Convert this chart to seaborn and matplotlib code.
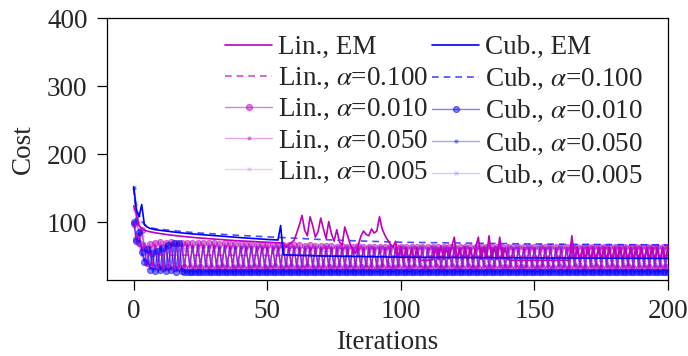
import numpy as np
import pandas as pd
import matplotlib
matplotlib.use("Agg")
import matplotlib.pyplot as plt
import seaborn as sns

# ---------------- data ----------------
iters = np.arange(201)

# Lin., EM (every iteration)
lin_em = [
    124, 112, 95, 91, 88, 87, 86, 85.2, 84.5, 83.8,
    83.2, 82.6, 82, 81.5, 81, 80.5, 80, 79.6, 79.2, 78.8,
    78.4, 78, 77.6, 77.3, 77, 76.7, 76.4, 76.1, 75.8, 75.5,
    75.2, 74.9, 74.6, 74.3, 74, 73.7, 73.4, 73.1, 72.9, 72.7,
    72.5, 72.3, 72.1, 71.9, 71.7, 71.5, 71.3, 71.1, 70.9, 70.7,
    70.5, 70.3, 70.1, 69.9, 69.7, 69.5, 69.3, 63, 67, 70,
    73, 84, 96, 110, 88, 80, 108, 95, 78, 86,
    106, 90, 76, 101, 83, 72, 89, 71, 66, 93,
    81, 68, 60, 54, 66, 79, 87, 82, 80, 90,
    84, 87, 108, 90, 81, 74, 68, 63, 72, 48,
    64, 46, 62, 44, 61, 45, 62, 44, 44, 44,
    44, 44, 45, 61, 45, 65, 45, 62, 46, 64,
    78, 46, 62, 45, 63, 45, 62, 45, 64, 78,
    45, 63, 46, 80, 45, 63, 45, 78, 46, 62,
    45, 44, 44, 44, 44, 44, 44, 44, 44, 44,
    44, 44, 44, 44, 44, 44, 44, 44, 44, 44,
    44, 44, 44, 44, 80, 45, 64, 45, 63, 46,
    64, 45, 63, 45, 64, 46, 63, 45, 64, 45,
    63, 46, 64, 45, 63, 45, 64, 46, 63, 45,
    64, 45, 63, 46, 64, 45, 63, 45, 64, 46,
    62,
]

# Cub., EM (sampled iterations)
cub_em_x = [0, 1, 2, 3, 4, 5, 6, 8, 10, 15, 20, 25, 30, 40, 50, 54, 55, 56, 70, 100, 150, 200]
cub_em = [152, 118, 108, 126, 96, 93, 91, 89, 88, 85.5, 83.4, 81.8, 80.3, 77.3, 74.6, 73.8, 95, 52, 50.4, 48.5, 47.5, 46.8]

# Cub., alpha=0.100 (sampled iterations)
cub_a1_x = [0, 1, 2, 3, 4, 5, 6, 8, 10, 15, 20, 25, 30, 40, 50, 55, 60, 70, 80, 100, 120, 150, 180, 200]
cub_a1 = [150, 116, 112, 101, 97, 94, 92, 90.5, 89.5, 87.5, 85.5, 84, 82.8, 80.5, 78.5, 77.5, 76.5, 74.5, 73, 70.5, 69.5, 68, 67, 66.5]

# Lin., alpha=0.100 (sampled iterations)
lin_a1_x = [0, 1, 2, 3, 4, 5, 6, 8, 10, 20, 40, 56, 80, 100, 150, 200]
lin_a1 = [100, 86, 74, 63, 56, 53, 52, 51.5, 51.5, 51.5, 51.2, 51, 50.5, 50.2, 49.8, 49.5]

# Lin., alpha=0.010 (every iteration)
lin_a01 = [
    98, 76, 70, 88, 62, 40, 68, 35, 70, 34,
    71, 33, 70, 34, 71, 32, 70, 33, 70, 34,
    70, 33, 69, 32, 70, 34, 69, 33, 69, 32,
    69, 33, 68, 34, 69, 32, 68, 33, 68, 34,
    68, 33, 67, 32, 68, 34, 67, 33, 67, 32,
    67, 33, 66, 34, 67, 32, 66, 33, 66, 34,
    66, 33, 66, 32, 65, 34, 66, 33, 65, 32,
    65, 33, 65, 34, 65, 32, 64, 33, 65, 34,
    64, 33, 64, 32, 65, 34, 64, 33, 64, 32,
    64, 33, 64, 34, 63, 32, 64, 33, 64, 34,
    63, 33, 64, 32, 63, 34, 64, 33, 63, 32,
    63, 33, 64, 34, 63, 32, 63, 33, 64, 34,
    63, 33, 63, 32, 64, 34, 63, 33, 63, 32,
    64, 33, 63, 34, 63, 32, 63, 33, 64, 34,
    63, 33, 63, 32, 63, 34, 64, 33, 63, 32,
    63, 33, 63, 34, 64, 32, 63, 33, 63, 34,
    63, 33, 64, 32, 63, 34, 63, 33, 63, 32,
    64, 33, 63, 34, 63, 32, 63, 33, 64, 34,
    63, 33, 63, 32, 63, 34, 64, 33, 63, 32,
    63, 33, 63, 34, 64, 32, 63, 33, 63, 34,
    63,
]

# Lin., alpha=0.050 (every iteration)
lin_a05 = [
    100, 82, 66, 52, 68, 40, 64, 38, 65, 37,
    65, 38, 64, 37, 65, 39, 64, 38, 64, 37,
    64, 38, 63, 39, 64, 37, 63, 38, 63, 39,
    63, 37, 62, 38, 63, 39, 62, 37, 62, 38,
    62, 39, 61, 37, 62, 38, 61, 39, 61, 37,
    61, 38, 60, 39, 61, 37, 60, 38, 60, 39,
    60, 37, 60, 38, 59, 39, 60, 37, 59, 38,
    59, 39, 59, 37, 59, 38, 58, 39, 59, 37,
    58, 38, 58, 39, 59, 37, 58, 38, 58, 39,
    58, 37, 58, 38, 57, 39, 58, 37, 58, 38,
    57, 39, 58, 37, 57, 38, 58, 39, 57, 37,
    58, 38, 57, 39, 58, 37, 57, 38, 58, 39,
    57, 37, 58, 38, 57, 39, 58, 37, 57, 38,
    58, 39, 57, 37, 58, 38, 57, 39, 58, 37,
    57, 38, 58, 39, 57, 37, 58, 38, 57, 39,
    58, 37, 57, 38, 58, 39, 57, 37, 58, 38,
    57, 39, 58, 37, 57, 38, 58, 39, 57, 37,
    58, 38, 57, 39, 58, 37, 57, 38, 58, 39,
    57, 37, 58, 38, 57, 39, 58, 37, 57, 38,
    58, 39, 57, 37, 58, 38, 57, 39, 58, 37,
    57,
]

# Lin., alpha=0.005 (every iteration)
lin_a005 = [
    120, 104, 90, 78, 66, 56, 62, 44, 61, 43,
    61, 42, 60, 43, 61, 42, 60, 44, 60, 42,
    60, 43, 59, 42, 60, 44, 59, 43, 59, 42,
    59, 44, 58, 43, 59, 42, 58, 44, 58, 43,
    58, 42, 57, 44, 58, 43, 57, 42, 57, 44,
    57, 43, 56, 42, 57, 44, 56, 43, 56, 42,
    56, 44, 56, 43, 55, 42, 56, 44, 55, 43,
    55, 42, 55, 44, 55, 43, 54, 42, 55, 44,
    54, 43, 55, 42, 54, 44, 55, 43, 54, 42,
    55, 44, 54, 43, 55, 42, 54, 44, 55, 43,
    54, 42, 55, 44, 54, 43, 55, 42, 54, 44,
    55, 43, 54, 42, 55, 44, 54, 43, 55, 42,
    54, 44, 55, 43, 54, 42, 55, 44, 54, 43,
    55, 42, 54, 44, 55, 43, 54, 42, 55, 44,
    54, 43, 55, 42, 54, 44, 55, 43, 54, 42,
    55, 44, 54, 43, 55, 42, 54, 44, 55, 43,
    54, 42, 55, 44, 54, 43, 55, 42, 54, 44,
    55, 43, 54, 42, 55, 44, 54, 43, 55, 42,
    54, 44, 55, 43, 54, 42, 55, 44, 54, 43,
    55, 42, 54, 44, 55, 43, 54, 42, 55, 44,
    54,
]

# Cub., alpha=0.010 (every iteration)
cub_a01 = [
    100, 72, 86, 56, 42, 60, 30, 55, 28, 58,
    30, 62, 28, 66, 30, 70, 27, 70, 28, 27,
    27, 27, 27, 27, 27, 27, 27, 27, 27, 27,
    27, 27, 27, 27, 27, 27, 27, 27, 27, 27,
    27, 27, 27, 27, 27, 27, 27, 27, 27, 27,
    27, 27, 27, 27, 27, 27, 27, 27, 27, 27,
    27, 27, 27, 27, 27, 27, 27, 27, 27, 27,
    27, 27, 27, 27, 27, 27, 27, 27, 27, 27,
    27, 27, 27, 27, 27, 27, 27, 27, 27, 27,
    27, 27, 27, 27, 27, 27, 27, 27, 27, 27,
    27, 27, 27, 27, 27, 27, 27, 27, 27, 27,
    27, 27, 27, 27, 27, 27, 27, 27, 27, 27,
    27, 27, 27, 27, 27, 27, 27, 27, 27, 27,
    27, 27, 27, 27, 27, 27, 27, 27, 27, 27,
    27, 27, 27, 27, 27, 27, 27, 27, 27, 27,
    27, 27, 27, 27, 27, 27, 27, 27, 27, 27,
    27, 27, 27, 27, 27, 27, 27, 27, 27, 27,
    27, 27, 27, 27, 27, 27, 27, 27, 27, 27,
    27, 27, 27, 27, 27, 27, 27, 27, 27, 27,
    27, 27, 27, 27, 27, 27, 27, 27, 27, 27,
    27,
]

# Cub., alpha=0.050 (every iteration)
cub_a05 = [
    150, 105, 82, 62, 46, 38, 56, 33, 60, 35,
    64, 34, 66, 33, 68, 34, 67, 33, 66, 35,
    66, 35, 65, 36, 66, 34, 65, 35, 65, 36,
    65, 34, 64, 35, 65, 36, 64, 34, 64, 35,
    64, 36, 64, 34, 63, 35, 64, 36, 63, 34,
    63, 35, 63, 36, 63, 34, 63, 35, 63, 36,
    63, 34, 62, 35, 63, 36, 62, 34, 63, 35,
    62, 36, 63, 34, 62, 35, 63, 36, 62, 34,
    63, 35, 62, 36, 63, 34, 62, 35, 63, 36,
    62, 34, 63, 35, 62, 36, 63, 34, 62, 35,
    63, 36, 62, 34, 63, 35, 62, 36, 63, 34,
    62, 35, 63, 36, 62, 34, 63, 35, 62, 36,
    63, 34, 62, 35, 63, 36, 62, 34, 63, 35,
    62, 36, 63, 34, 62, 35, 63, 36, 62, 34,
    63, 35, 62, 36, 63, 34, 62, 35, 63, 36,
    62, 34, 63, 35, 62, 36, 63, 34, 62, 35,
    63, 36, 62, 34, 63, 35, 62, 36, 63, 34,
    62, 35, 63, 36, 62, 34, 63, 35, 62, 36,
    63, 34, 62, 35, 63, 36, 62, 34, 63, 35,
    62, 36, 63, 34, 62, 35, 63, 36, 62, 34,
    63,
]

# Cub., alpha=0.005 (every iteration)
cub_a005 = [
    152, 128, 100, 82, 70, 58, 45, 62, 40, 60,
    41, 61, 40, 62, 41, 61, 40, 60, 41, 61,
    60, 40, 61, 41, 60, 40, 61, 41, 60, 40,
    61, 41, 60, 40, 61, 41, 60, 40, 61, 41,
    60, 40, 61, 41, 60, 40, 61, 41, 60, 40,
    61, 41, 60, 40, 61, 41, 60, 40, 61, 41,
    60, 40, 61, 41, 60, 40, 61, 41, 60, 40,
    61, 41, 60, 40, 61, 41, 60, 40, 61, 41,
    60, 40, 61, 41, 60, 40, 61, 41, 60, 40,
    61, 41, 60, 40, 61, 41, 60, 40, 61, 41,
    60, 40, 61, 41, 60, 40, 61, 41, 60, 40,
    61, 41, 60, 40, 61, 41, 60, 40, 61, 41,
    60, 40, 61, 41, 60, 40, 61, 41, 60, 40,
    61, 41, 60, 40, 61, 41, 60, 40, 61, 41,
    60, 40, 61, 41, 60, 40, 61, 41, 60, 40,
    61, 41, 60, 40, 61, 41, 60, 40, 61, 41,
    60, 40, 61, 41, 60, 40, 61, 41, 60, 40,
    61, 41, 60, 40, 61, 41, 60, 40, 61, 41,
    60, 40, 61, 41, 60, 40, 61, 41, 60, 40,
    61, 41, 60, 40, 61, 41, 60, 40, 61, 41,
    60,
]

for arr in (lin_em, lin_a01, lin_a05, lin_a005, cub_a01, cub_a05, cub_a005):
    assert len(arr) == 201, len(arr)

x_ticks = [0, 50, 100, 150, 200]
y_ticks = [100, 200, 300, 400]

# ---------------- style ----------------
sns.set_style("ticks")
plt.rcParams["font.family"] = ["Liberation Serif", "DejaVu Serif"]
plt.rcParams["mathtext.fontset"] = "stix"
plt.rcParams["xtick.direction"] = "out"
plt.rcParams["ytick.direction"] = "out"

FS = 19.5
LIN = (0.75, 0.0, 0.75)
CUB = (0.0, 0.0, 1.0)

fig = plt.figure(figsize=(6.88, 3.56), dpi=100)
ax = fig.add_axes([0.1555, 0.2135, 0.8155, 0.7355])


def draw(xv, yv, color, alpha, label, z, ls="-", marker=None, ms=0, lw=1.0, mew=0.8):
    kw = dict(color=color, alpha=alpha, linewidth=lw, linestyle=ls, zorder=z)
    if marker is not None:
        kw.update(marker=marker, markersize=ms, markeredgewidth=mew,
                  markeredgecolor=color, markerfacecolor=color)
    sns.lineplot(x=np.asarray(xv), y=np.asarray(yv), ax=ax, label=label,
                 estimator=None, sort=False, **kw)


# lightest first
draw(iters, lin_a005, LIN, 0.2, r"Lin., $\alpha$=0.005", 2, marker="x", ms=2.5)
draw(iters, cub_a005, CUB, 0.2, r"Cub., $\alpha$=0.005", 2, marker="x", ms=2.5)
draw(iters, lin_a05, LIN, 0.35, r"Lin., $\alpha$=0.050", 3, marker="o", ms=2.2)
draw(iters, cub_a05, CUB, 0.35, r"Cub., $\alpha$=0.050", 3, marker="o", ms=2.2)
draw(iters, lin_a01, LIN, 0.5, r"Lin., $\alpha$=0.010", 4, marker="o", ms=4.4)
draw(iters, cub_a01, CUB, 0.5, r"Cub., $\alpha$=0.010", 4, marker="o", ms=4.4)
draw(lin_a1_x, lin_a1, LIN, 0.7, r"Lin., $\alpha$=0.100", 5, ls=(0, (4, 3)), lw=1.2)
draw(cub_a1_x, cub_a1, CUB, 0.7, r"Cub., $\alpha$=0.100", 5, ls=(0, (4, 3)), lw=1.2)
draw(iters, lin_em, LIN, 1.0, "Lin., EM", 6, lw=1.2)
draw(cub_em_x, cub_em, CUB, 1.0, "Cub., EM", 7, lw=1.2)

ax.set_xlim(-10, 200)
ax.set_ylim(15, 400)
ax.set_xticks(x_ticks)
ax.set_yticks(y_ticks)
ax.tick_params(axis="both", labelsize=FS, length=7, width=0.9, color="black", pad=7)
for s in ax.spines.values():
    s.set_linewidth(0.9)
    s.set_color("black")
ax.set_xlabel("Iterations", fontsize=FS, labelpad=4)
ax.set_ylabel("Cost", fontsize=FS, labelpad=8)

h, l = ax.get_legend_handles_labels()
lab2h = dict(zip(l, h))
order = ["Lin., EM", r"Lin., $\alpha$=0.100", r"Lin., $\alpha$=0.010",
         r"Lin., $\alpha$=0.050", r"Lin., $\alpha$=0.005",
         "Cub., EM", r"Cub., $\alpha$=0.100", r"Cub., $\alpha$=0.010",
         r"Cub., $\alpha$=0.050", r"Cub., $\alpha$=0.005"]
leg = ax.legend([lab2h[k] for k in order], order, ncol=2, frameon=False,
                fontsize=FS, loc="upper left", bbox_to_anchor=(0.21, 0.935),
                borderpad=0, borderaxespad=0, handlelength=1.75, handletextpad=0.2,
                columnspacing=0.15, labelspacing=0.22, numpoints=1)

fig.savefig("out.png", dpi=100)
